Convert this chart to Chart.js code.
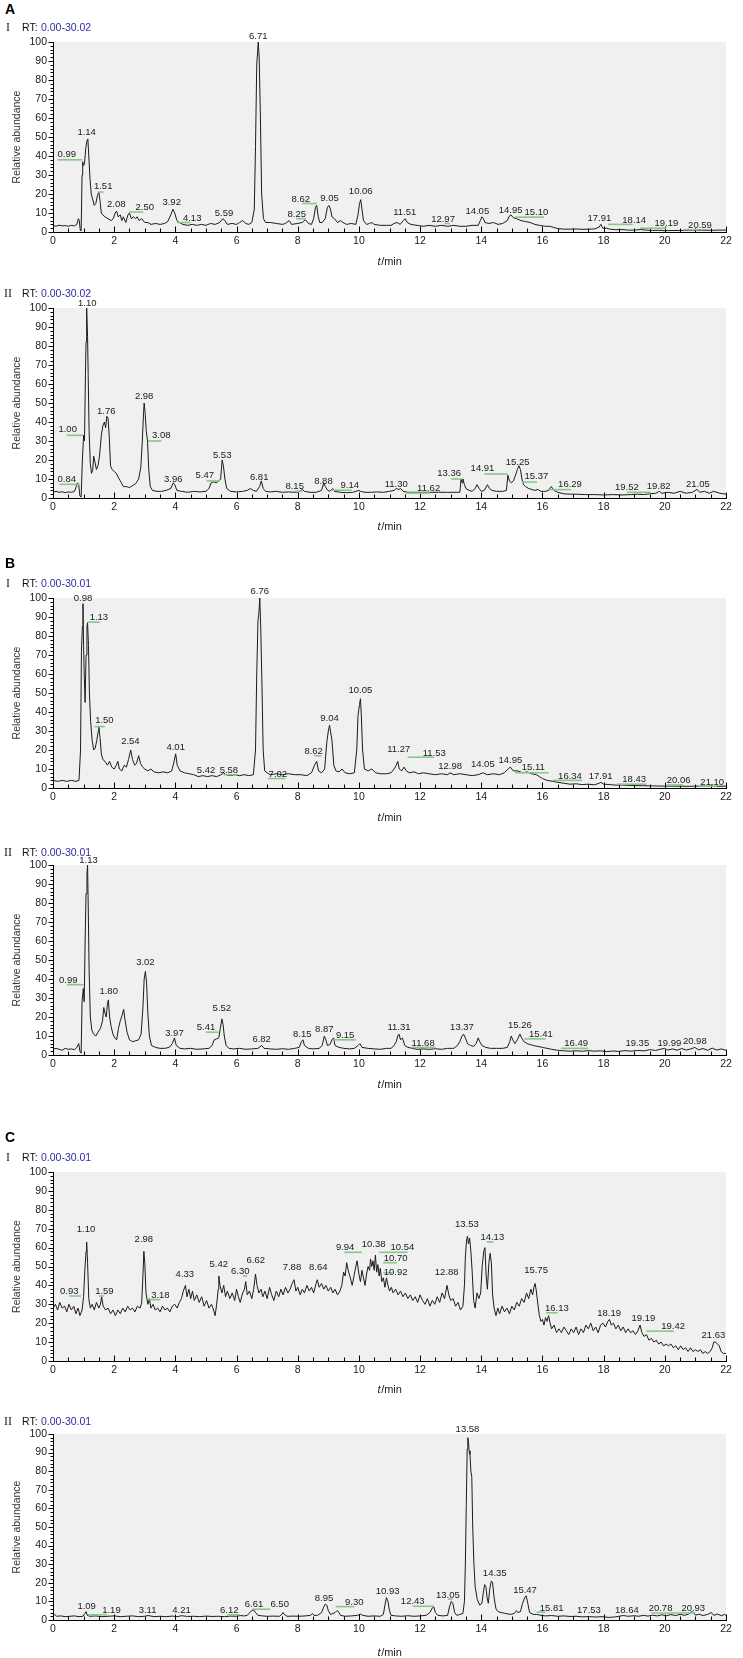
<!DOCTYPE html>
<html><head><meta charset="utf-8">
<script src="https://cdn.jsdelivr.net/npm/chart.js@4.4.1/dist/chart.umd.min.js"></script>
<style>
html,body{margin:0;padding:0;background:#fff;}
body{width:743px;height:1658px;position:relative;overflow:hidden;font-family:"Liberation Sans",Arial,sans-serif;}
canvas.cv{position:absolute;left:0;}
.ov{position:absolute;white-space:nowrap;line-height:12px;z-index:2;}
.let{font-weight:bold;font-size:14px;line-height:14px;color:#000;}
.rom{font-family:"Liberation Serif","Times New Roman",serif;font-size:12px;color:#222;}
.rt{font-size:10.5px;color:#111;}
.rtv{font-size:10.5px;color:#2e2e9e;}
</style>
</head><body>
<script>
// ---------------- DATA ----------------
const xTickValues = [0,2,4,6,8,10,12,14,16,18,20,22];
const yTickValues = [0,10,20,30,40,50,60,70,80,90,100];
const panelLetters = ['A','B','C'];
const rtRanges = ['0.00-30.02','0.00-30.02','0.00-30.01','0.00-30.01','0.00-30.01','0.00-30.01'];

const traceAI = [[0,3.5],[0.1,3],[0.2,3.6],[0.3,3.2],[0.4,3.4],[0.5,3],[0.6,3.5],[0.7,3.2],[0.78,4],[0.83,7],[0.86,6],[0.89,1],[0.92,0.5],[0.95,30],[0.97,37],[1.0,35],[1.03,36],[1.07,44],[1.11,48],[1.14,49],[1.17,40],[1.21,28],[1.25,20],[1.3,17],[1.35,14],[1.4,15],[1.45,19],[1.5,21],[1.54,16],[1.58,10],[1.63,9],[1.7,8],[1.8,7],[1.9,6],[1.97,7],[2.03,10],[2.08,11],[2.13,8],[2.2,9],[2.25,6],[2.3,8],[2.38,5],[2.45,9],[2.5,10],[2.56,7],[2.63,8],[2.7,7],[2.75,8],[2.82,6],[2.9,7],[3.0,5],[3.1,5],[3.2,4],[3.35,4.5],[3.5,4],[3.65,4.5],[3.75,5.5],[3.85,9],[3.92,12],[3.98,10],[4.05,6],[4.13,5],[4.25,4],[4.4,3.5],[4.55,4],[4.7,3.5],[4.85,4],[5.0,3.5],[5.15,4.5],[5.3,4],[5.45,5],[5.55,7],[5.62,6],[5.7,4],[5.85,4.5],[6.0,4],[6.1,5],[6.2,6],[6.3,4.5],[6.4,4],[6.5,5],[6.58,12],[6.62,45],[6.66,88],[6.71,100],[6.74,92],[6.78,60],[6.82,20],[6.88,7],[6.95,5],[7.1,5],[7.3,4.5],[7.5,4],[7.6,4.5],[7.72,6],[7.8,4],[8.0,4.5],[8.15,5],[8.25,6.5],[8.35,4.5],[8.45,4],[8.52,7],[8.58,13],[8.62,14],[8.67,8],[8.72,5],[8.8,5],[8.9,7],[8.97,13],[9.02,14],[9.07,12],[9.12,8],[9.2,7],[9.3,5],[9.4,6],[9.48,5],[9.6,4],[9.75,4.5],[9.9,4],[9.97,9],[10.02,15],[10.06,17],[10.1,12],[10.15,6],[10.25,4],[10.35,4.5],[10.42,5],[10.5,4],[10.7,3.5],[10.9,3.5],[11.05,3.5],[11.15,4.5],[11.25,5],[11.35,4],[11.45,6],[11.51,7],[11.58,5],[11.7,4],[11.9,3.5],[12.1,3],[12.3,3.5],[12.5,3],[12.7,3.5],[12.9,3],[13.1,3.5],[13.3,3],[13.5,3],[13.7,3.5],[13.9,3.5],[13.97,6],[14.02,8],[14.07,7],[14.12,5],[14.25,4.5],[14.4,5],[14.55,4],[14.7,4.5],[14.85,6],[14.92,8.5],[14.97,9],[15.05,7.5],[15.15,7],[15.3,6],[15.45,5.5],[15.6,5],[15.75,4],[15.9,3.5],[16.1,3],[16.25,3],[16.35,2.5],[16.5,1.8],[16.7,1.5],[16.9,1.5],[17.1,1.6],[17.3,1.4],[17.5,1.5],[17.7,1.6],[17.85,2.5],[17.91,4],[17.97,2],[18.1,2],[18.2,1.5],[18.4,1.2],[18.6,1.3],[18.8,1],[19.0,1],[19.2,1.3],[19.4,1],[19.6,0.8],[19.8,0.9],[20.0,0.7],[20.3,0.8],[20.6,0.8],[20.9,0.9],[21.2,1],[21.5,0.9],[21.8,1],[22,1]];

const traceAII = [[0,3],[0.1,3.5],[0.2,3],[0.3,3.3],[0.4,2.8],[0.5,3.2],[0.6,3],[0.7,3.5],[0.76,6],[0.8,8],[0.84,7],[0.88,1],[0.92,0.5],[0.96,20],[1.0,33],[1.03,30],[1.06,65],[1.08,82],[1.1,100],[1.13,85],[1.15,65],[1.18,35],[1.22,18],[1.26,13],[1.3,15],[1.33,22],[1.37,19],[1.42,15],[1.47,17],[1.52,22],[1.58,33],[1.63,38],[1.68,40],[1.72,37],[1.76,43],[1.8,42],[1.84,32],[1.88,17],[1.93,15],[2.0,14],[2.07,13],[2.13,11],[2.2,9],[2.3,6],[2.4,6],[2.5,5.5],[2.6,6.5],[2.7,7.5],[2.8,10],[2.87,16],[2.92,30],[2.96,45],[2.98,50],[3.01,45],[3.05,35],[3.09,30],[3.13,15],[3.18,6],[3.25,4],[3.4,3.5],[3.55,3.5],[3.7,4],[3.85,5],[3.93,8],[3.98,7],[4.05,4],[4.2,3.5],[4.4,3],[4.6,3.5],[4.8,3.2],[5.0,3.5],[5.1,5],[5.17,8],[5.25,8.5],[5.33,8],[5.42,9],[5.48,10],[5.53,20],[5.57,17],[5.62,10],[5.68,5],[5.8,3.5],[6.0,3.2],[6.2,3.5],[6.35,4],[6.45,5],[6.55,4],[6.65,3.5],[6.75,6],[6.81,9],[6.87,5],[6.95,3.5],[7.1,3.2],[7.3,3.5],[7.5,3],[7.7,3.2],[7.9,3],[8.05,3.3],[8.15,4.5],[8.22,3.5],[8.4,3],[8.6,3],[8.78,4],[8.85,8],[8.9,6],[8.98,4],[9.05,3.5],[9.14,5],[9.2,3.5],[9.4,3],[9.6,2.8],[9.8,3],[10.0,4],[10.05,3.5],[10.2,3],[10.4,3],[10.6,3.2],[10.8,3],[11.0,3.5],[11.15,4],[11.22,5],[11.3,4.5],[11.36,5],[11.45,3.5],[11.6,3],[11.8,3],[12.0,3],[12.3,3],[12.6,3],[12.9,3],[13.2,3],[13.3,3],[13.34,10],[13.37,8],[13.4,10],[13.45,7],[13.5,5],[13.6,4],[13.7,3.5],[13.8,5],[13.86,7],[13.93,5],[14.0,3.5],[14.1,4],[14.2,7],[14.27,5],[14.35,4],[14.5,3.5],[14.7,3.5],[14.82,4],[14.87,12],[14.92,9],[14.98,8],[15.05,9],[15.12,12],[15.18,15],[15.23,17],[15.28,15],[15.33,10],[15.38,7],[15.45,6],[15.55,5],[15.65,4.5],[15.75,4],[15.85,4.5],[15.95,3.5],[16.1,3.5],[16.2,4],[16.29,6],[16.38,4],[16.5,3],[16.7,2.2],[16.9,2],[17.1,2],[17.4,1.8],[17.7,1.8],[18.0,1.6],[18.3,1.8],[18.6,1.6],[18.9,1.8],[19.1,2],[19.3,1.8],[19.5,2.2],[19.7,2.5],[19.82,3.5],[19.9,2.5],[20.1,3],[20.3,2.5],[20.5,3.5],[20.7,2.5],[20.9,3],[21.05,4.5],[21.15,3],[21.3,3.5],[21.45,2.5],[21.6,3.5],[21.8,2.5],[22,2]];

const traceBI = [[0,4],[0.15,3.5],[0.3,4],[0.45,3.5],[0.6,4],[0.75,3.5],[0.85,4],[0.9,20],[0.93,72],[0.96,85],[0.98,97],[1.0,75],[1.02,60],[1.05,45],[1.08,70],[1.11,85],[1.13,87],[1.16,75],[1.19,50],[1.23,35],[1.28,25],[1.33,20],[1.38,21],[1.43,25],[1.48,30],[1.5,32],[1.54,26],[1.58,18],[1.63,15],[1.7,14],[1.78,12],[1.85,14],[1.92,11],[2.0,10],[2.07,12],[2.12,14],[2.17,10],[2.25,9],[2.33,12],[2.4,11],[2.47,15],[2.54,20],[2.6,15],[2.67,12],[2.73,13],[2.8,17],[2.86,13],[2.93,11],[3.0,10],[3.1,9],[3.2,10],[3.3,8.5],[3.45,8],[3.6,8.5],[3.75,8],[3.88,9],[3.96,14],[4.01,18],[4.06,12],[4.15,9],[4.3,8],[4.45,7.5],[4.6,7],[4.75,6],[4.9,6.5],[5.05,6],[5.2,6.5],[5.35,6],[5.5,7],[5.58,8],[5.65,7],[5.8,6.5],[5.95,7],[6.1,6.5],[6.25,7],[6.4,6.5],[6.55,7],[6.62,20],[6.66,60],[6.7,88],[6.73,92],[6.76,100],[6.79,85],[6.83,55],[6.87,20],[6.92,9],[7.0,8],[7.1,7],[7.3,7.5],[7.5,7],[7.7,7.5],[7.9,7],[8.1,7],[8.3,6.5],[8.45,8],[8.55,12],[8.62,14],[8.68,9],[8.78,8],[8.88,10],[8.95,24],[9.0,30],[9.04,33],[9.08,29],[9.12,25],[9.18,12],[9.25,9],[9.35,8.5],[9.45,10],[9.55,8],[9.7,7.5],[9.85,8],[9.93,20],[9.97,38],[10.02,44],[10.05,47],[10.08,38],[10.12,20],[10.18,10],[10.3,9],[10.42,10],[10.55,8],[10.7,7.5],[10.9,7.5],[11.05,8],[11.15,10],[11.22,12],[11.27,14],[11.32,10],[11.4,9],[11.48,11],[11.55,9],[11.65,8],[11.8,8.5],[11.95,7.5],[12.1,8],[12.3,7.5],[12.5,7],[12.7,7.5],[12.9,7],[12.98,8],[13.1,7],[13.3,7.5],[13.5,7],[13.7,6.5],[13.9,7],[14.05,8],[14.2,7],[14.4,7.5],[14.6,7],[14.75,8],[14.88,10],[14.95,11],[15.05,9],[15.2,9],[15.35,8],[15.5,8.5],[15.65,7.5],[15.8,7],[15.9,6],[16.0,5],[16.15,4],[16.34,3.5],[16.5,3],[16.7,2.5],[16.9,2],[17.1,2.2],[17.3,1.8],[17.5,2],[17.7,1.7],[17.85,2.5],[17.91,3],[18.0,2],[18.2,1.8],[18.4,1.5],[18.6,1.6],[18.8,1.4],[19.0,1.3],[19.3,1.2],[19.6,1.1],[19.9,1],[20.2,1],[20.5,0.9],[20.8,0.9],[21.1,1],[21.4,1],[21.7,0.9],[22,1]];

const traceBII = [[0,3],[0.1,3.5],[0.2,3],[0.3,2.5],[0.4,3.5],[0.5,3],[0.6,3.2],[0.7,2.8],[0.78,4],[0.84,6],[0.88,2],[0.92,1],[0.95,28],[0.99,35],[1.02,28],[1.05,60],[1.08,85],[1.11,95],[1.13,100],[1.15,80],[1.18,45],[1.22,20],[1.27,13],[1.33,11],[1.4,10],[1.47,12],[1.55,14],[1.62,18],[1.66,25],[1.7,22],[1.74,20],[1.78,27],[1.81,29],[1.85,20],[1.9,15],[1.96,11],[2.02,9],[2.08,8],[2.14,14],[2.2,18],[2.26,21],[2.31,24],[2.35,19],[2.42,12],[2.5,8],[2.6,7],[2.7,7.5],[2.8,8],[2.88,11],[2.94,25],[2.98,40],[3.02,44],[3.06,38],[3.1,22],[3.15,10],[3.22,5],[3.35,4],[3.5,3.5],[3.65,3.5],[3.8,4],[3.9,6],[3.97,9],[4.03,5],[4.15,3.5],[4.3,3.2],[4.5,3.5],[4.7,3],[4.9,3.2],[5.1,3.5],[5.2,5],[5.27,8],[5.35,8.5],[5.42,9],[5.47,14],[5.52,19],[5.56,16],[5.6,10],[5.66,5],[5.75,3.5],[5.9,3.2],[6.1,3.5],[6.3,3],[6.5,3.2],[6.7,3.5],[6.82,5],[6.9,3.5],[7.1,3.2],[7.3,3],[7.5,3.3],[7.7,3],[7.9,3.5],[8.05,4],[8.12,7],[8.17,8],[8.22,5],[8.35,3.5],[8.5,3.2],[8.7,3.5],[8.8,5],[8.87,10],[8.92,8],[8.97,5],[9.05,5.5],[9.12,8],[9.17,9],[9.22,5],[9.35,4],[9.5,3.5],[9.7,3.2],[9.85,3.5],[9.97,5],[10.03,6],[10.1,4],[10.3,3.5],[10.5,3.2],[10.7,3],[10.9,3.5],[11.05,3.5],[11.15,5],[11.22,7],[11.27,10],[11.31,11],[11.36,8],[11.42,9],[11.5,5],[11.6,4],[11.75,3.5],[11.9,3],[12.1,3.2],[12.3,3],[12.5,3.3],[12.7,3],[12.9,3.5],[13.1,3.5],[13.22,5],[13.3,7],[13.37,10],[13.42,11],[13.48,9],[13.55,6],[13.65,5],[13.75,4.5],[13.83,6],[13.9,9],[13.95,7],[14.02,5],[14.15,4],[14.3,3.5],[14.5,3.5],[14.7,3.5],[14.85,4],[14.93,7],[14.98,10],[15.03,8],[15.1,6],[15.18,8],[15.26,11],[15.32,9],[15.4,7],[15.5,6],[15.6,5.5],[15.7,5],[15.85,4.5],[16.0,4],[16.15,3.5],[16.3,3],[16.49,2.5],[16.7,2.2],[16.9,2],[17.1,2.2],[17.3,2],[17.5,2.3],[17.7,2],[17.9,2.2],[18.1,1.8],[18.3,2.1],[18.5,1.9],[18.7,2.3],[18.9,2],[19.1,2.4],[19.35,2.2],[19.5,2.8],[19.7,2.4],[19.85,3],[19.99,3.5],[20.1,2.6],[20.25,3.2],[20.4,2.5],[20.55,3.4],[20.7,2.6],[20.85,3.2],[20.98,4],[21.1,2.7],[21.25,3.4],[21.4,2.5],[21.55,3.6],[21.7,2.6],[21.85,3.2],[22,2.5]];

const traceCI = [[0,28],[0.08,30],[0.15,27],[0.22,31],[0.3,28],[0.38,29],[0.45,26],[0.52,30],[0.6,27],[0.68,29],[0.75,25],[0.82,28],[0.88,24],[0.95,27],[1.0,34],[1.04,48],[1.08,58],[1.1,63],[1.13,52],[1.17,33],[1.22,28],[1.28,30],[1.35,27],[1.42,31],[1.5,28],[1.55,30],[1.59,34],[1.64,29],[1.72,27],[1.8,28],[1.88,25],[1.96,27],[2.04,24],[2.12,27],[2.2,25],[2.28,28],[2.36,26],[2.44,29],[2.52,27],[2.6,28],[2.68,26],[2.76,29],[2.85,28],[2.9,31],[2.94,45],[2.97,58],[3.0,52],[3.04,36],[3.1,30],[3.15,33],[3.2,28],[3.27,30],[3.34,27],[3.42,28],[3.5,26],[3.58,29],[3.66,27],[3.74,28],[3.82,26],[3.9,29],[3.98,30],[4.06,28],[4.13,31],[4.2,33],[4.26,37],[4.33,40],[4.38,34],[4.44,38],[4.5,33],[4.56,37],[4.62,32],[4.7,35],[4.78,31],[4.86,34],[4.94,29],[5.02,32],[5.1,28],[5.18,30],[5.25,27],[5.3,24],[5.35,30],[5.4,38],[5.42,45],[5.46,40],[5.52,36],[5.58,40],[5.64,34],[5.7,37],[5.78,33],[5.86,36],[5.94,32],[6.0,38],[6.06,34],[6.12,31],[6.2,36],[6.26,38],[6.3,42],[6.35,35],[6.42,37],[6.5,33],[6.56,38],[6.62,46],[6.67,40],[6.73,36],[6.8,38],[6.86,34],[6.93,37],[7.0,33],[7.08,39],[7.15,35],[7.22,32],[7.3,37],[7.38,34],[7.45,38],[7.52,35],[7.6,39],[7.68,36],[7.75,38],[7.82,41],[7.88,43],[7.94,37],[8.0,39],[8.08,35],[8.15,38],[8.22,36],[8.3,40],[8.38,37],[8.45,39],[8.52,36],[8.6,41],[8.64,43],[8.7,39],[8.78,41],[8.85,38],[8.92,40],[9.0,37],[9.08,39],[9.15,36],[9.22,38],[9.3,35],[9.38,37],[9.44,40],[9.5,47],[9.55,45],[9.6,52],[9.65,48],[9.72,44],[9.78,40],[9.84,45],[9.9,50],[9.94,53],[10.0,46],[10.05,42],[10.1,48],[10.15,44],[10.2,40],[10.25,46],[10.3,50],[10.35,48],[10.38,54],[10.42,50],[10.46,53],[10.5,48],[10.54,56],[10.58,47],[10.62,51],[10.66,45],[10.7,49],[10.75,42],[10.8,44],[10.85,39],[10.9,44],[10.95,40],[11.0,37],[11.06,39],[11.12,36],[11.2,38],[11.28,35],[11.36,37],[11.44,34],[11.52,36],[11.6,33],[11.68,35],[11.76,32],[11.84,34],[11.92,31],[12.0,35],[12.08,32],[12.16,30],[12.24,33],[12.32,29],[12.4,32],[12.48,30],[12.56,34],[12.64,31],[12.72,36],[12.8,33],[12.88,40],[12.94,35],[13.0,32],[13.08,33],[13.16,29],[13.24,31],[13.32,27],[13.4,29],[13.45,40],[13.48,55],[13.52,64],[13.55,66],[13.58,62],[13.62,65],[13.66,58],[13.7,48],[13.75,32],[13.8,28],[13.86,36],[13.92,33],[13.98,36],[14.03,50],[14.08,58],[14.12,60],[14.16,45],[14.2,38],[14.25,52],[14.29,57],[14.33,52],[14.37,35],[14.42,28],[14.48,24],[14.54,28],[14.6,25],[14.68,29],[14.76,26],[14.84,28],[14.92,25],[15.0,29],[15.08,27],[15.16,31],[15.24,29],[15.32,33],[15.4,31],[15.48,36],[15.55,33],[15.62,38],[15.68,35],[15.72,39],[15.76,41],[15.8,37],[15.85,30],[15.9,24],[15.95,21],[16.0,22],[16.05,19],[16.1,23],[16.15,21],[16.2,24],[16.25,20],[16.3,17],[16.38,19],[16.46,15],[16.54,17],[16.62,15],[16.7,18],[16.78,16],[16.86,14],[16.94,17],[17.02,15],[17.1,18],[17.18,14],[17.26,17],[17.34,15],[17.42,19],[17.5,17],[17.58,20],[17.66,16],[17.74,18],[17.82,15],[17.9,19],[17.98,20],[18.06,18],[18.14,21],[18.19,22],[18.25,19],[18.32,20],[18.4,17],[18.48,19],[18.56,16],[18.64,18],[18.72,15],[18.8,17],[18.88,15],[18.96,16],[19.04,14],[19.12,16],[19.19,19],[19.25,15],[19.32,13],[19.4,14],[19.48,11],[19.56,12],[19.64,10],[19.72,11],[19.8,9],[19.88,10],[19.96,8],[20.04,9],[20.12,8],[20.2,9],[20.28,7],[20.36,8],[20.44,6],[20.52,8],[20.6,6],[20.68,7],[20.76,5],[20.84,7],[20.92,5],[21.0,6],[21.08,5],[21.16,6],[21.24,4],[21.32,5],[21.4,4],[21.48,5],[21.55,7],[21.6,10],[21.66,10],[21.72,9],[21.78,8],[21.84,5],[21.92,4],[22,4]];

const traceCII = [[0,2],[0.05,3],[0.12,2],[0.25,2.2],[0.4,1.8],[0.55,2],[0.7,2.2],[0.85,1.8],[0.98,2],[1.04,3.5],[1.08,4.5],[1.12,2.5],[1.2,2],[1.4,2.2],[1.6,1.8],[1.8,2],[2.0,2.2],[2.2,1.8],[2.4,2],[2.6,2.2],[2.8,1.8],[3.0,2],[3.11,2.4],[3.3,1.8],[3.5,2],[3.7,1.8],[3.9,2.1],[4.05,1.8],[4.21,2.3],[4.4,1.9],[4.6,2],[4.8,1.8],[5.0,2.1],[5.2,1.9],[5.4,2],[5.6,1.8],[5.8,2.1],[6.0,2],[6.12,2.4],[6.25,2.2],[6.35,2.5],[6.43,4],[6.5,5],[6.56,5.5],[6.62,4],[6.7,2.5],[6.85,2.2],[7.0,2],[7.2,2.1],[7.4,2],[7.48,3],[7.52,4],[7.56,3],[7.65,2],[7.85,2.1],[8.05,2],[8.25,2.2],[8.42,2.5],[8.48,3.5],[8.53,2.5],[8.65,2.5],[8.78,4],[8.85,7],[8.9,8.5],[8.95,8],[9.0,5],[9.07,3],[9.15,3.5],[9.22,4],[9.28,5],[9.33,4.5],[9.4,2.5],[9.55,2],[9.75,2.2],[9.95,2.5],[10.05,3.2],[10.12,2.5],[10.3,2],[10.5,2.2],[10.7,2],[10.8,3],[10.85,8],[10.9,12],[10.95,10],[11.0,5],[11.05,2.5],[11.2,2.2],[11.4,2],[11.6,2.3],[11.8,2],[12.0,2.2],[12.2,2.5],[12.32,4],[12.4,6.5],[12.45,7],[12.5,4],[12.58,2.5],[12.75,2.2],[12.9,2.5],[12.96,7],[13.02,10],[13.07,9],[13.13,4],[13.2,2.5],[13.3,3],[13.4,3.5],[13.45,10],[13.48,30],[13.51,62],[13.54,92],[13.56,98],[13.58,96],[13.6,91],[13.63,89],[13.66,80],[13.69,77],[13.72,50],[13.76,30],[13.8,18],[13.87,11],[13.95,8],[14.02,9],[14.07,15],[14.11,19],[14.15,18],[14.19,12],[14.23,9],[14.28,17],[14.33,21],[14.37,20],[14.42,12],[14.48,6],[14.55,4.5],[14.65,4],[14.8,3.5],[14.95,3],[15.08,3.5],[15.15,5],[15.2,4],[15.28,4.5],[15.35,9],[15.42,12],[15.47,13],[15.52,9],[15.58,4],[15.7,3],[15.81,3],[15.95,2.5],[16.1,2.2],[16.3,2.4],[16.5,2],[16.7,2.2],[16.9,1.9],[17.1,2],[17.3,1.7],[17.53,1.8],[17.75,1.6],[17.95,1.8],[18.15,1.4],[18.35,1.6],[18.5,2],[18.64,2.4],[18.8,2],[19.0,2.3],[19.15,2],[19.3,2.5],[19.45,2.1],[19.6,2.6],[19.75,2.2],[19.9,2.8],[20.05,2.3],[20.2,2.9],[20.35,2.4],[20.5,3],[20.65,2.5],[20.78,3.2],[20.88,4.5],[20.93,4],[21.0,2.6],[21.12,3.1],[21.25,2.4],[21.4,3],[21.52,4],[21.6,2.5],[21.72,3.2],[21.85,2.3],[21.95,3],[22,2.5]];

// peak annotations: [text, text centre (min), text baseline (abundance), green from, green to, green level]
const labelsAI = [['0.99',0.45,39.5,0.15,0.95,38],['1.14',1.1,51],['1.51',1.64,22.5,1.45,1.65,21],['2.08',2.07,13],['2.50',3.0,11.5,2.48,2.95,10.5],['3.92',3.88,14],['4.13',4.55,6,4.05,4.5,5],['5.59',5.59,8.5],['6.71',6.71,101.5],['8.25',7.97,8,7.95,8.26,7],['8.62',8.1,16,8.15,8.62,15],['9.05',9.04,16.5],['10.06',10.06,20],['11.51',11.5,9],['12.97',12.75,5.5,12.8,12.97,4.5],['14.05',13.87,9.5],['14.95',14.96,10],['15.10',15.8,9,15.1,16.05,7.8],['17.91',17.86,6],['18.14',19.0,5,18.14,18.95,4],['19.19',20.05,3,19.19,20.05,2],['20.59',21.15,2.2,20.59,21.1,1.2]];
const labelsAII = [['1.10',1.12,101],['1.00',0.48,34.5,0.44,0.98,33],['0.84',0.45,8.5,0.22,0.87,7.2],['1.76',1.74,44],['2.98',2.98,52],['3.08',3.54,31.5,3.1,3.54,30],['3.96',3.93,8.5],['5.47',4.96,10.5,5.02,5.45,9],['5.53',5.53,21],['6.81',6.74,9.5],['8.15',7.9,5,7.9,8.15,3.6],['8.88',8.84,7.5],['9.14',9.7,5.5,9.1,9.76,4.1],['11.30',11.22,6],['11.62',12.28,3.5,11.55,12.33,2.6],['13.36',12.95,11.5,13.02,13.36,10],['14.91',14.04,14,14.1,14.86,12.6],['15.25',15.19,17.5],['15.37',15.8,10,15.32,15.82,8.4],['16.29',16.9,6,16.26,16.93,4.4],['19.52',18.76,4,18.76,19.53,3],['19.82',19.8,5],['21.05',21.08,6]];
const labelsBI = [['0.98',0.98,98.5],['1.13',1.5,88.5,1.15,1.53,87.3],['1.50',1.68,34,1.36,1.69,32.3],['2.54',2.53,23],['4.01',4.01,20],['5.42',5.0,8],['5.58',5.75,8,5.58,6.0,7],['6.76',6.76,102],['7.02',7.35,6,7.02,7.6,5],['8.62',8.52,18,8.54,8.77,17],['9.04',9.04,35.5],['10.05',10.05,50],['11.27',11.3,19],['11.53',12.46,17,11.59,12.45,16.2],['12.98',12.98,10],['14.05',14.05,11],['14.95',14.95,13],['15.11',15.7,9.5,15.11,16.2,8],['16.34',16.9,5,16.34,17.3,4],['17.91',17.9,5],['18.43',19.0,3,18.43,19.4,2],['20.06',20.45,2.5,20.06,20.6,1.6],['21.10',21.55,1.8,21.1,21.7,1]];
const labelsBII = [['1.13',1.16,101],['0.99',0.5,38,0.46,1.0,37],['1.80',1.82,32],['3.02',3.02,47.5],['3.97',3.97,10],['5.41',5.0,13,5.0,5.41,12],['5.52',5.52,23],['6.82',6.82,7],['8.15',8.15,9.5],['8.87',8.87,12],['9.15',9.55,9,9.15,9.9,8],['11.31',11.31,13],['11.68',12.1,5,11.7,12.5,4],['13.37',13.37,13],['15.26',15.26,14],['15.41',15.95,9.5,15.41,16.1,8.5],['16.49',17.1,4.5,16.6,17.5,3.5],['19.35',19.1,4.5],['19.99',20.15,5],['20.98',20.98,6]];
const labelsCI = [['0.93',0.53,35.5,0.53,0.92,34.4],['1.10',1.08,68.5],['1.59',1.68,35.5,1.5,1.68,34.4],['2.98',2.97,63],['3.18',3.51,33.5,3.13,3.51,32.5],['4.33',4.31,44.5],['5.42',5.42,50],['6.30',6.12,46,6.2,6.35,45],['6.62',6.63,52],['7.88',7.81,48],['8.64',8.67,48],['9.94',9.55,58.5,9.52,10.1,57.5],['10.38',10.48,60.5],['10.54',11.42,58.5,10.66,11.59,57.5],['10.70',11.2,53,10.79,11.25,52],['10.92',11.2,45.5,10.8,11.1,46.7],['12.88',12.87,45.5],['13.53',13.53,71],['14.13',14.36,64,14.18,14.4,63],['15.75',15.79,46.5],['16.13',16.47,26.5,16.12,16.5,25.5],['18.19',18.18,24],['19.19',19.3,21],['19.42',20.27,16.8,19.4,20.3,15.8],['21.63',21.59,12.4]];
const labelsCII = [['1.09',1.1,6],['1.19',1.91,4,1.15,1.76,2.8],['3.11',3.09,4],['4.21',4.2,4],['6.12',5.76,4,5.7,6.1,2.8],['6.61',6.57,7],['6.50',7.41,7,6.5,7.1,5.8],['8.95',8.86,10.3],['9.30',9.85,8,9.24,9.85,7.2],['10.93',10.94,14],['12.43',11.76,8.5,11.76,12.45,7.4],['13.05',12.91,12,12.91,13.06,11.2],['13.58',13.55,101],['14.35',14.44,23.5],['15.47',15.43,14.5],['15.81',16.3,5,15.81,16.1,4.2],['17.53',17.52,3.8],['18.64',18.76,4],['20.78',19.86,4.8,19.56,20.86,3.8],['20.93',20.93,5,20.86,21.0,3.8]];

// ---------------- LAYOUT ----------------
const FONT = '"Liberation Sans", Arial, sans-serif';
const W = 743, PLOT_LEFT = 53, PLOT_RIGHT = 726, TOP_PAD = 16;
const panels = [
  {trace: traceAI,  labels: labelsAI,  roman: 'I',  top: 42,   bottom: 232,  tmin: 262,  rtY: 27},
  {trace: traceAII, labels: labelsAII, roman: 'II', top: 308,  bottom: 498,  tmin: 527,  rtY: 293},
  {trace: traceBI,  labels: labelsBI,  roman: 'I',  top: 598,  bottom: 788,  tmin: 818,  rtY: 583},
  {trace: traceBII, labels: labelsBII, roman: 'II', top: 865,  bottom: 1055, tmin: 1085, rtY: 852},
  {trace: traceCI,  labels: labelsCI,  roman: 'I',  top: 1172, bottom: 1361, tmin: 1390, rtY: 1157},
  {trace: traceCII, labels: labelsCII, roman: 'II', top: 1434, bottom: 1620, tmin: 1653, rtY: 1421}
];
const letterY = [9, 563, 1137];

function addDiv(cls, html, left, top) {
  const d = document.createElement('div');
  d.className = 'ov ' + cls; d.innerHTML = html;
  d.style.left = left + 'px'; d.style.top = top + 'px';
  document.body.appendChild(d);
}
panelLetters.forEach((L, i) => addDiv('let', L, 5, letterY[i] - 7));

const chromPlugin = {
  id: 'chrom',
  beforeDraw(chart) {
    const {ctx, chartArea: a} = chart;
    ctx.save();
    ctx.fillStyle = '#f0f0f0';
    ctx.fillRect(a.left, a.top, a.right - a.left, a.bottom - a.top);
    ctx.restore();
  },
  afterDatasetsDraw(chart) {
    const {ctx, chartArea: a, scales: {x, y}} = chart;
    const cfg = chart.options.plugins.chrom;
    ctx.save();
    ctx.strokeStyle = '#000'; ctx.lineWidth = 1;
    const L = Math.round(a.left) + 0.5, B = Math.round(a.bottom) + 0.5;
    ctx.beginPath();
    ctx.moveTo(L, Math.round(a.top)); ctx.lineTo(L, B);
    ctx.moveTo(L, B); ctx.lineTo(Math.round(a.right) + 1, B);
    for (let v = 0; v <= 100; v += 2) {
      const py = Math.round(y.getPixelForValue(v)) + 0.5;
      const len = v % 10 === 0 ? 5 : 3;
      ctx.moveTo(L - len, py); ctx.lineTo(L, py);
    }
    for (let k = 0; k <= 44; k++) {
      const px = Math.round(x.getPixelForValue(k / 2)) + 0.5;
      const len = k % 4 === 0 ? 6 : 4;
      ctx.moveTo(px, B); ctx.lineTo(px, B - len);
    }
    ctx.stroke();
    // peak labels
    ctx.textAlign = 'center'; ctx.textBaseline = 'alphabetic';
    ctx.font = '9.5px ' + FONT;
    for (const lab of cfg.labels) {
      const [txt, tx, ty, g1, g2, gy] = lab;
      if (g1 !== undefined) {
        ctx.strokeStyle = '#86c986'; ctx.lineWidth = 1.6;
        const gp = y.getPixelForValue(gy);
        ctx.beginPath();
        ctx.moveTo(x.getPixelForValue(g1), gp); ctx.lineTo(x.getPixelForValue(g2), gp);
        ctx.stroke();
      }
      ctx.fillStyle = '#1a1a1a';
      ctx.fillText(txt, x.getPixelForValue(tx), y.getPixelForValue(ty));
    }
    // x title  t/min
    ctx.textAlign = 'left'; ctx.textBaseline = 'middle'; ctx.fillStyle = '#222';
    ctx.font = 'italic 11px ' + FONT; const w1 = ctx.measureText('t').width;
    ctx.font = '11px ' + FONT; const w2 = ctx.measureText('/min').width;
    const cx = (a.left + a.right) / 2, sx = cx - (w1 + w2) / 2;
    ctx.font = 'italic 11px ' + FONT; ctx.fillText('t', sx, cfg.tminY);
    ctx.font = '11px ' + FONT; ctx.fillText('/min', sx + w1 + 0.5, cfg.tminY);
    ctx.restore();
  }
};

panels.forEach((p, i) => {
  const cTop = p.top - TOP_PAD;
  const cH = (p.tmin + 9) - cTop;
  const cv = document.createElement('canvas');
  cv.className = 'cv'; cv.width = W; cv.height = cH;
  cv.style.top = cTop + 'px'; cv.style.width = W + 'px'; cv.style.height = cH + 'px';
  document.body.appendChild(cv);
  addDiv('rom', p.roman, p.roman === 'I' ? 6 : 4, p.rtY - 6);
  addDiv('rt', 'RT:', 22, p.rtY - 6);
  addDiv('rtv', rtRanges[i], 41, p.rtY - 6);
  const xH = (p.tmin + 9) - p.bottom;
  new Chart(cv.getContext('2d'), {
    type: 'line',
    data: { datasets: [{ data: p.trace.map(([t, v]) => ({x: t, y: v})), borderColor: '#1c1c1c', borderWidth: 1, pointRadius: 0, tension: 0, fill: false }] },
    options: {
      responsive: false, animation: false, events: [], devicePixelRatio: 1,
      layout: { padding: { top: TOP_PAD, right: W - PLOT_RIGHT, left: 0, bottom: 0 } },
      plugins: { legend: { display: false }, tooltip: { enabled: false }, chrom: { labels: p.labels, tminY: p.tmin - cTop } },
      scales: {
        x: {
          type: 'linear', min: 0, max: 22,
          afterBuildTicks: s => { s.ticks = xTickValues.map(v => ({value: v})); },
          afterFit: s => { s.height = xH; },
          grid: { display: false, drawTicks: false }, border: { display: false },
          ticks: { padding: 3, maxRotation: 0, autoSkip: false, color: '#1a1a1a', font: { family: FONT, size: 10.5 } }
        },
        y: {
          type: 'linear', min: 0, max: 100,
          afterBuildTicks: s => { s.ticks = yTickValues.map(v => ({value: v})); },
          afterFit: s => { s.width = PLOT_LEFT; },
          grid: { display: false, drawTicks: false }, border: { display: false },
          ticks: { padding: 6, autoSkip: false, color: '#1a1a1a', font: { family: FONT, size: 10.5 } },
          title: { display: true, text: 'Relative abundance', color: '#333', font: { family: FONT, size: 10.5 }, padding: { top: 11, bottom: 0 } }
        }
      }
    },
    plugins: [chromPlugin]
  });
});
</script>
</body></html>
